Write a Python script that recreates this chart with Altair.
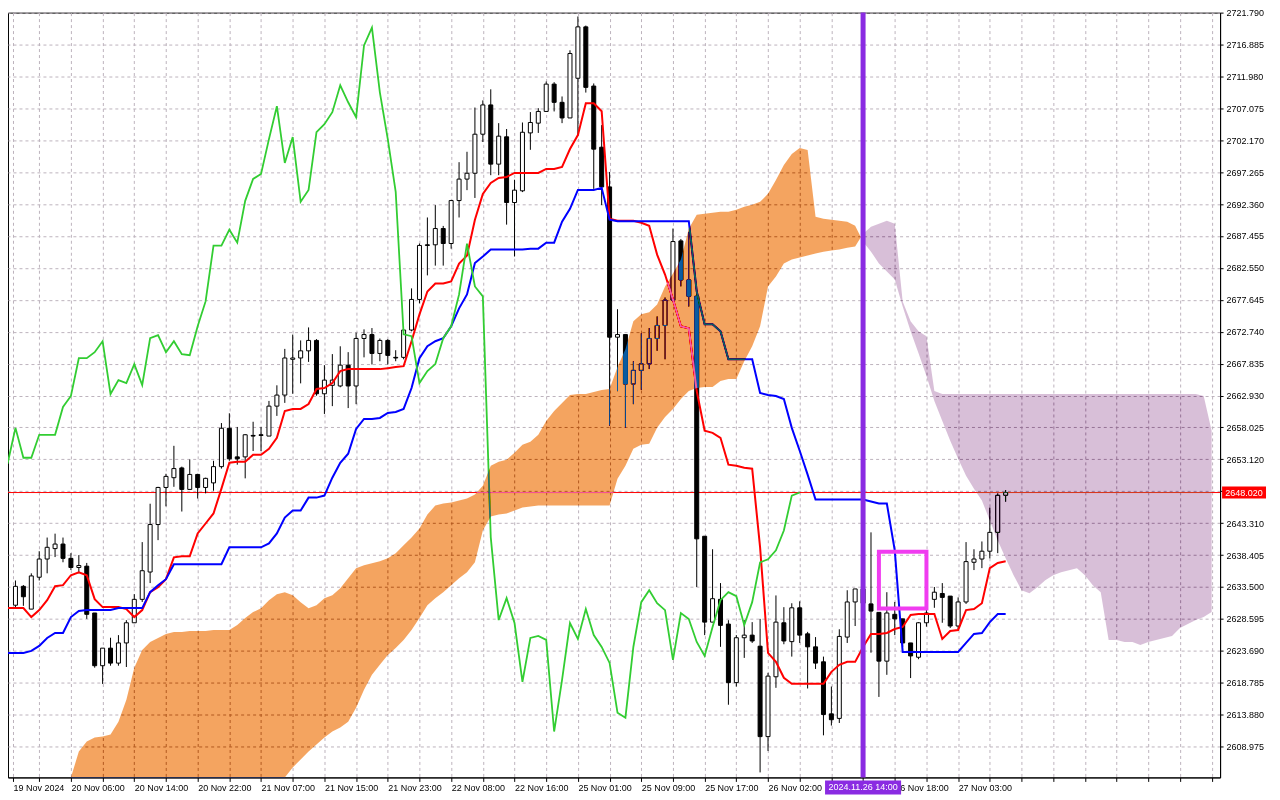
import altair as alt
import pandas as pd

FONT = "Liberation Sans"
GRID = "#bdb3bd"

# ---------------- axis labels ----------------
first_label = "19 Nov 2024"
time_labels = ["20 Nov 06:00", "20 Nov 14:00", "20 Nov 22:00", "21 Nov 07:00", "21 Nov 15:00",
               "21 Nov 23:00", "22 Nov 08:00", "22 Nov 16:00", "25 Nov 01:00", "25 Nov 09:00",
               "25 Nov 17:00", "26 Nov 02:00", "26 Nov 10:00", "26 Nov 18:00", "27 Nov 03:00"]
label_first_bar = 7
price_ticks = [2721.790, 2716.885, 2711.980, 2707.075, 2702.170, 2697.265, 2692.360, 2687.455,
               2682.550, 2677.645, 2672.740, 2667.835, 2662.930, 2658.025, 2653.120, 2648.215,
               2643.310, 2638.405, 2633.500, 2628.595, 2623.690, 2618.785, 2613.880, 2608.975]

# ---------------- candles (bar 0 .. 125) ----------------
open_ = [2630.7, 2633.6, 2630.1, 2635.0, 2637.8, 2639.4, 2640.1, 2637.9, 2636.5, 2636.7,
         2629.5, 2621.4, 2624.1, 2621.8, 2624.9, 2628.0, 2631.6, 2635.8, 2643.1, 2648.8,
         2650.3, 2651.8, 2648.5, 2650.8, 2648.8, 2649.5, 2652.0, 2657.9, 2653.5, 2653.5,
         2656.8, 2656.9, 2656.7, 2661.3, 2663.0, 2668.5, 2668.7, 2669.8, 2671.4, 2663.2,
         2664.5, 2664.4, 2667.6, 2664.4, 2671.7, 2672.3, 2669.4, 2671.4, 2668.8, 2668.8,
         2673.0, 2677.7, 2686.1, 2686.1, 2688.6, 2686.3, 2692.9, 2696.2, 2697.1, 2703.1,
         2707.6, 2698.5, 2702.7, 2692.6, 2694.4, 2703.3, 2704.8, 2706.6, 2710.8, 2708.0,
         2705.6, 2711.7, 2719.6, 2710.5, 2701.1, 2695.0, 2671.9, 2672.3, 2664.7, 2666.8,
         2667.8, 2671.7, 2673.7, 2677.6, 2686.7, 2680.7, 2678.2, 2641.3, 2628.1, 2631.6,
         2627.8, 2618.8, 2625.7, 2626.1, 2624.4, 2610.5, 2619.7, 2628.0, 2625.1, 2630.3,
         2626.3, 2624.3, 2622.0, 2614.0, 2613.3, 2625.8, 2631.2, 2633.2, 2630.9, 2629.6,
         2622.1, 2629.3, 2628.6, 2624.9, 2622.7, 2628.0, 2631.6, 2632.5, 2632.1, 2627.5,
         2631.2, 2637.3, 2637.8, 2639.0, 2641.9, 2647.6]
high = [2634.5, 2633.8, 2635.6, 2639.0, 2641.1, 2641.7, 2641.1, 2638.7, 2638.4, 2637.2,
        2629.5, 2624.1, 2625.7, 2626.1, 2628.4, 2632.4, 2640.4, 2646.3, 2648.9, 2650.9,
        2655.2, 2652.0, 2653.1, 2650.9, 2650.3, 2652.9, 2658.7, 2660.2, 2658.1, 2657.0,
        2658.9, 2658.1, 2662.1, 2664.5, 2670.1, 2672.3, 2671.4, 2673.4, 2671.6, 2667.6,
        2669.3, 2670.5, 2669.6, 2672.6, 2673.1, 2673.3, 2671.7, 2671.6, 2669.9, 2673.0,
        2679.4, 2686.3, 2690.3, 2692.2, 2689.0, 2693.0, 2698.8, 2700.4, 2707.2, 2708.3,
        2710.0, 2704.8, 2703.9, 2696.1, 2704.9, 2706.5, 2707.1, 2711.2, 2711.1, 2708.9,
        2716.0, 2721.2, 2719.8, 2710.9, 2704.5, 2697.3, 2676.2, 2672.3, 2668.2, 2672.5,
        2673.3, 2675.1, 2678.0, 2688.6, 2687.0, 2688.1, 2678.5, 2641.3, 2639.3, 2634.1,
        2628.4, 2626.1, 2628.4, 2628.1, 2628.6, 2620.3, 2632.2, 2630.4, 2631.0, 2631.3,
        2626.6, 2625.8, 2622.8, 2618.2, 2627.0, 2633.0, 2633.2, 2634.0, 2641.9, 2629.6,
        2632.7, 2631.2, 2628.6, 2624.9, 2628.1, 2633.0, 2633.5, 2634.1, 2632.1, 2631.9,
        2640.4, 2639.3, 2640.5, 2645.7, 2647.9, 2648.4]
low = [2630.3, 2630.6, 2630.1, 2634.5, 2635.6, 2638.1, 2637.3, 2636.1, 2635.6, 2628.6,
       2621.1, 2618.6, 2621.4, 2621.4, 2621.2, 2628.0, 2631.2, 2634.1, 2640.7, 2645.9,
       2648.9, 2645.1, 2648.5, 2647.1, 2647.9, 2648.3, 2651.7, 2652.9, 2652.3, 2650.2,
       2654.4, 2654.4, 2656.7, 2659.8, 2661.8, 2663.2, 2664.8, 2668.1, 2662.9, 2660.1,
       2661.3, 2664.2, 2661.0, 2661.6, 2668.8, 2667.7, 2668.2, 2667.7, 2668.2, 2668.5,
       2672.8, 2677.1, 2681.4, 2682.9, 2682.9, 2685.5, 2690.3, 2694.5, 2693.3, 2701.9,
       2696.8, 2696.8, 2689.2, 2684.3, 2694.2, 2700.7, 2703.3, 2706.6, 2706.6, 2704.8,
       2705.6, 2702.9, 2709.5, 2694.7, 2692.2, 2658.3, 2663.6, 2658.0, 2661.6, 2663.8,
       2667.0, 2669.8, 2668.5, 2677.4, 2679.7, 2676.6, 2633.5, 2626.1, 2628.1, 2624.3,
       2615.4, 2618.2, 2622.6, 2624.9, 2605.0, 2608.3, 2618.0, 2624.7, 2622.8, 2624.9,
       2617.9, 2620.9, 2610.7, 2612.2, 2612.6, 2624.9, 2627.5, 2629.5, 2623.4, 2616.6,
       2620.0, 2626.1, 2624.3, 2619.5, 2622.4, 2627.4, 2630.3, 2628.0, 2627.2, 2627.0,
       2630.9, 2636.1, 2636.4, 2637.9, 2638.7, 2646.6]
close = [2633.6, 2632.0, 2635.2, 2637.8, 2639.6, 2640.1, 2637.9, 2636.5, 2636.8, 2629.3,
         2621.4, 2624.1, 2621.8, 2624.9, 2628.0, 2631.6, 2636.0, 2643.1, 2648.8, 2650.5,
         2651.7, 2648.5, 2650.8, 2648.8, 2650.2, 2652.0, 2657.9, 2653.2, 2653.2, 2656.9,
         2656.7, 2656.8, 2661.3, 2663.0, 2668.7, 2668.7, 2669.8, 2671.4, 2663.2, 2665.3,
         2665.3, 2667.6, 2664.4, 2671.7, 2672.3, 2669.4, 2671.4, 2669.1, 2668.7, 2673.0,
         2677.7, 2686.0, 2686.0, 2688.6, 2686.3, 2692.9, 2696.2, 2697.1, 2703.1, 2707.6,
         2698.5, 2702.8, 2692.6, 2694.5, 2703.4, 2704.9, 2706.6, 2710.8, 2708.0, 2705.6,
         2715.5, 2719.6, 2710.3, 2700.8, 2695.0, 2671.9, 2672.3, 2664.7, 2666.8, 2667.8,
         2671.7, 2673.7, 2677.6, 2686.6, 2680.7, 2678.2, 2640.9, 2628.1, 2631.7, 2627.6,
         2618.8, 2625.7, 2626.1, 2625.2, 2610.5, 2619.8, 2628.1, 2625.2, 2630.3, 2626.1,
         2624.3, 2621.8, 2613.9, 2613.1, 2625.9, 2631.2, 2633.2, 2631.0, 2629.8, 2622.1,
         2629.5, 2628.6, 2624.9, 2622.9, 2628.0, 2629.5, 2632.7, 2631.9, 2627.5, 2631.2,
         2637.4, 2637.8, 2639.0, 2641.9, 2647.6, 2648.02]

# ---------------- Ichimoku lines (from bar -1) ----------------
line_first_bar = -1
tenkan = [2630.26, 2630.26, 2630.26, 2628.88, 2629.95, 2631.48, 2633.62, 2633.78, 2635.31, 2635.77,
          2635.31, 2631.63, 2630.41, 2630.41, 2630.41, 2630.10, 2628.88, 2629.95, 2632.71, 2633.47,
          2634.70, 2638.06, 2638.21, 2638.21, 2641.73, 2643.26, 2644.80, 2648.62, 2652.60, 2652.76,
          2652.76, 2653.83, 2653.83, 2654.75, 2656.43, 2660.56, 2660.87, 2660.87, 2661.63, 2663.93,
          2664.08, 2664.85, 2666.68, 2666.99, 2666.99, 2666.99, 2666.99, 2666.99, 2667.14, 2667.30,
          2667.45, 2671.28, 2675.41, 2678.93, 2680.15, 2680.15, 2680.46, 2683.22, 2684.44, 2689.95,
          2693.93, 2695.61, 2696.38, 2696.53, 2697.14, 2697.14, 2697.14, 2697.14, 2697.76, 2697.76,
          2698.07, 2700.82, 2702.96, 2707.86, 2707.86, 2706.64, 2690.10, 2689.80, 2689.80, 2689.80,
          2689.49, 2689.03, 2684.59, 2681.53, 2677.71, 2673.57, 2673.27, 2663.62, 2657.51, 2657.20,
          2656.43, 2652.31, 2652.15, 2651.84, 2651.69, 2639.60, 2623.37, 2621.99, 2619.54, 2618.62,
          2618.62, 2618.62, 2618.62, 2618.62, 2620.46, 2621.53, 2621.99, 2621.99, 2624.28, 2626.28,
          2626.28, 2626.43, 2627.04, 2627.35, 2629.19, 2629.34, 2629.34, 2629.34, 2625.51, 2626.74,
          2626.89, 2629.95, 2630.10, 2631.00, 2636.40, 2637.20, 2637.45]
kijun = [2623.37, 2623.37, 2623.37, 2623.68, 2624.44, 2625.67, 2626.43, 2626.43, 2628.88, 2629.80,
         2629.95, 2629.95, 2629.95, 2629.95, 2630.26, 2630.26, 2630.26, 2630.26, 2632.71, 2633.78,
         2634.70, 2637.00, 2637.00, 2637.00, 2637.00, 2637.00, 2637.00, 2637.00, 2639.60, 2639.60,
         2639.60, 2639.60, 2639.60, 2640.21, 2641.73, 2644.18, 2645.25, 2645.25, 2647.24, 2647.24,
         2647.55, 2650.30, 2652.60, 2653.98, 2657.80, 2659.33, 2659.33, 2659.49, 2660.25, 2660.41,
         2660.87, 2664.08, 2668.67, 2670.51, 2671.28, 2671.74, 2673.57, 2676.33, 2678.47, 2683.30,
         2684.29, 2685.36, 2685.36, 2685.36, 2685.36, 2685.36, 2685.51, 2685.51, 2686.43, 2686.43,
         2689.65, 2691.63, 2694.54, 2694.54, 2694.54, 2694.85, 2689.95, 2689.72, 2689.72, 2689.72,
         2689.72, 2689.72, 2689.72, 2689.72, 2689.72, 2689.72, 2689.72, 2678.93, 2673.88, 2673.88,
         2672.81, 2668.52, 2668.52, 2668.52, 2668.52, 2663.32, 2663.01, 2662.86, 2662.40, 2657.96,
         2654.44, 2650.77, 2646.94, 2646.94, 2646.94, 2646.94, 2646.94, 2646.94, 2646.94, 2646.63,
         2646.33, 2646.33, 2639.14, 2623.52, 2623.52, 2623.52, 2623.52, 2623.52, 2623.52, 2623.52,
         2623.52, 2624.90, 2626.28, 2626.43, 2628.11, 2629.34, 2629.34]
chikou = [2652.45, 2657.96, 2653.37, 2653.37, 2656.89, 2656.89, 2656.89, 2661.17, 2662.86, 2668.67,
          2668.67, 2669.59, 2671.28, 2663.16, 2665.31, 2664.85, 2667.75, 2664.54, 2671.74, 2672.20,
          2669.59, 2671.28, 2669.29, 2669.13, 2673.57, 2677.40, 2685.97, 2685.97, 2688.42, 2686.43,
          2692.86, 2696.23, 2696.99, 2702.35, 2707.40, 2698.68, 2702.66, 2692.71, 2694.54, 2703.42,
          2704.65, 2706.48, 2710.62, 2708.01, 2705.72, 2716.74, 2719.49, 2709.54, 2702.35, 2694.24,
          2672.35, 2672.05, 2664.85, 2666.69, 2667.76, 2671.74, 2673.57, 2678.47, 2686.28, 2679.70,
          2678.17, 2641.13, 2628.42, 2631.79, 2627.96, 2618.93, 2625.67, 2625.97, 2625.36, 2611.28,
          2619.23, 2627.96, 2625.51, 2630.10, 2626.12, 2624.28, 2621.83, 2614.18, 2613.41, 2624.28,
          2631.17, 2633.01, 2631.02, 2629.95, 2622.29, 2629.49, 2628.57, 2625.05, 2622.91, 2627.35,
          2631.48, 2632.70, 2632.09, 2627.65, 2631.17, 2637.29, 2637.75, 2639.13, 2642.19, 2647.55,
          2648.02]

# ---------------- cloud spans (from bar 7 to 151) ----------------
cloud_first_bar = 7
span_a = [2603.16, 2608.21, 2609.74, 2610.35, 2610.51, 2610.81, 2612.80, 2616.17, 2621.07, 2623.82,
          2625.05, 2625.66, 2626.27, 2626.58, 2626.58, 2626.73, 2626.73, 2626.73, 2626.89, 2626.89,
          2626.89, 2627.65, 2628.72, 2629.64, 2630.25, 2631.48, 2632.40, 2632.70, 2632.24, 2631.17,
          2630.25, 2630.71, 2631.78, 2632.24, 2633.31, 2634.85, 2636.38, 2636.84, 2637.14, 2637.45,
          2637.91, 2638.67, 2639.90, 2641.12, 2642.50, 2644.64, 2646.02, 2646.33, 2646.48, 2646.78,
          2647.09, 2647.70, 2649.08, 2652.14, 2652.75, 2653.06, 2654.13, 2655.36, 2655.82, 2656.89,
          2659.03, 2660.56, 2661.79, 2663.01, 2663.16, 2663.16, 2663.47, 2663.78, 2663.93, 2667.30,
          2670.05, 2674.34, 2675.41, 2675.72, 2676.94, 2679.70, 2681.68, 2683.83, 2688.57, 2690.72,
          2690.87, 2691.02, 2691.18, 2691.18, 2691.48, 2691.94, 2692.25, 2692.71, 2693.93, 2696.07,
          2698.37, 2700.05, 2700.97, 2700.67, 2690.41, 2690.10, 2689.95, 2689.80, 2689.64, 2689.03,
          2686.58, 2685.05, 2683.22, 2681.99, 2680.77, 2676.63, 2672.81, 2669.44, 2665.92, 2662.09,
          2659.03, 2655.97, 2653.21, 2650.61, 2648.62, 2646.78, 2643.72, 2640.66, 2637.91, 2635.30,
          2633.01, 2632.55, 2633.47, 2634.54, 2635.30, 2635.76, 2636.07, 2636.38, 2635.30, 2633.77,
          2632.70, 2625.36, 2625.36, 2625.05, 2625.05, 2624.59, 2625.05, 2625.36, 2625.66, 2625.97,
          2627.19, 2627.80, 2628.42, 2628.88, 2629.64]
span_b = [2601.5, 2601.5, 2601.5, 2601.5, 2601.5, 2601.5, 2601.5, 2601.5, 2601.5, 2601.5,
          2601.5, 2601.5, 2601.5, 2601.5, 2601.5, 2601.5, 2601.5, 2601.5, 2601.5, 2601.5,
          2601.5, 2601.5, 2601.5, 2601.5, 2601.5, 2601.5, 2601.5, 2604.23, 2605.76, 2606.99,
          2608.21, 2609.28, 2610.35, 2611.27, 2611.89, 2612.80, 2614.95, 2617.70, 2620.00, 2621.53,
          2623.06, 2624.13, 2625.36, 2626.89, 2628.72, 2630.71, 2631.78, 2632.70, 2633.77, 2634.85,
          2635.76, 2637.29, 2642.19, 2644.34, 2644.64, 2644.80, 2645.25, 2645.71, 2645.87, 2646.02,
          2646.02, 2646.02, 2646.02, 2646.02, 2646.02, 2646.02, 2646.02, 2646.02, 2646.02, 2650.15,
          2652.14, 2654.74, 2655.36, 2655.51, 2657.96, 2659.64, 2660.87, 2662.40, 2663.62, 2664.08,
          2664.23, 2664.23, 2665.15, 2665.46, 2665.46, 2668.21, 2670.51, 2673.57, 2679.70, 2681.23,
          2683.22, 2683.83, 2684.13, 2684.44, 2684.75, 2685.05, 2685.21, 2685.36, 2685.66, 2685.82,
          2687.81, 2688.88, 2689.34, 2689.80, 2689.34, 2677.40, 2674.34, 2672.81, 2672.04, 2663.62,
          2663.16, 2663.16, 2663.16, 2663.16, 2663.16, 2663.16, 2663.16, 2663.16, 2663.16, 2663.16,
          2663.16, 2663.16, 2663.16, 2663.16, 2663.16, 2663.16, 2663.16, 2663.16, 2663.16, 2663.16,
          2663.16, 2663.16, 2663.16, 2663.16, 2663.16, 2663.16, 2663.16, 2663.16, 2663.16, 2663.16,
          2663.16, 2663.16, 2663.16, 2662.86, 2657.50]

# ---------------- annotations ----------------
current_price = 2648.02
current_label = "2648.020"
vline_bar = 107
vline_label = "2024.11.26 14:00"
box_bars = [109, 115]
box_prices = [2638.9, 2630.2]

# ---------------- layout ----------------
W, H = 1214, 766
xscale = alt.Scale(domain=[-0.3125, 151.4375], nice=False, zero=False)
yscale = alt.Scale(domain=[2604.23, 2721.79], nice=False, zero=False, clamp=True)

grid_vals = [-0.3125] + list(range(3, 152, 4))
last_label_bar = label_first_bar + 8 * (len(time_labels) - 1)
lab_js = "[" + ",".join("'%s'" % s for s in time_labels) + "]"
label_expr = (f"datum.value < 0 ? '{first_label}' : "
              f"((datum.value - {label_first_bar}) % 8 == 0 && datum.value <= {last_label_bar} "
              f"&& abs(datum.value - {vline_bar}) > 3 ? "
              f"{lab_js}[(datum.value - {label_first_bar}) / 8] : '')")

xaxis = alt.Axis(values=grid_vals, grid=True, gridDash=[3, 3], gridColor=GRID, gridWidth=1,
                 labelExpr=label_expr, labelAlign="left", labelFont=FONT, labelFontSize=9,
                 labelColor="black", labelPadding=2, labelOverlap=False, labelFlush=False,
                 tickSize=4, tickColor="black", domainColor="black", title="")
yaxis = alt.Axis(orient="right", values=price_ticks, format=".3f", grid=True, gridDash=[3, 3],
                 gridColor=GRID, gridWidth=1, labelFont=FONT, labelFontSize=9, labelColor="black",
                 labelPadding=3, labelOverlap=False, labelFlush=False, tickSize=3,
                 tickColor="black", domainColor="black", title="")


def X(f):
    return alt.X(f, type="quantitative", scale=xscale, axis=xaxis)


def Y(f):
    return alt.Y(f, type="quantitative", scale=yscale, axis=yaxis)


# data frames
candles = pd.DataFrame({"bar": list(range(len(close))), "open": open_, "high": high,
                        "low": low, "close": close})
ten_df = pd.DataFrame({"bar": list(range(line_first_bar, line_first_bar + len(tenkan))), "v": tenkan})
kij_df = pd.DataFrame({"bar": list(range(line_first_bar, line_first_bar + len(kijun))), "v": kijun})
chi_df = pd.DataFrame({"bar": list(range(line_first_bar, line_first_bar + len(chikou))), "v": chikou})

rows = []
seg = 0
prev = None
for i, (a, b) in enumerate(zip(span_a, span_b)):
    xb = cloud_first_bar + i
    kind = "bull" if a >= b else "bear"
    if prev is not None and kind != prev[3]:
        px, pa, pb, pk = prev
        d0, d1 = pa - pb, a - b
        t = d0 / (d0 - d1)
        cx = px + t
        cv = pa + t * (a - pa)
        rows.append({"bar": cx, "a": cv, "b": cv, "kind": pk, "seg": seg})
        seg += 1
        rows.append({"bar": cx, "a": cv, "b": cv, "kind": kind, "seg": seg})
    rows.append({"bar": xb, "a": a, "b": b, "kind": kind, "seg": seg})
    prev = (xb, a, b, kind)
cloud = pd.DataFrame(rows)

cur_df = pd.DataFrame({"price": [current_price], "top": [current_price + 0.92],
                       "bot": [current_price - 0.92], "label": [current_label]})
vl_df = pd.DataFrame({"bar": [vline_bar], "x1": [vline_bar - 4.8], "x2": [vline_bar + 4.8],
                      "label": [vline_label]})
box_df = pd.DataFrame({"x1": [box_bars[0]], "x2": [box_bars[1]],
                       "p1": [box_prices[0]], "p2": [box_prices[1]]})

# ---------------- layers ----------------
hline = alt.Chart(cur_df).mark_rule(color="#FF0000", strokeWidth=1).encode(y=Y("price"))

wicks = alt.Chart(candles).mark_rule(color="black", strokeWidth=1).encode(
    x=X("bar"), y=Y("low"), y2=alt.Y2("high"))

bodies = alt.Chart(candles).mark_bar(size=4, stroke="black", strokeWidth=1).encode(
    x=X("bar"), y=Y("open"), y2=alt.Y2("close"),
    fill=alt.condition(alt.datum.close >= alt.datum.open, alt.value("white"), alt.value("black")))

l_ten = alt.Chart(ten_df).mark_line(color="#FF0000", strokeWidth=2, clip=True).encode(
    x=X("bar"), y=Y("v"))
l_kij = alt.Chart(kij_df).mark_line(color="#0000FF", strokeWidth=2, clip=True).encode(
    x=X("bar"), y=Y("v"))
l_chi = alt.Chart(chi_df).mark_line(color="#32CD32", strokeWidth=1.8, clip=True).encode(
    x=X("bar"), y=Y("v"))

# cloud drawn with a difference blend (no clip group, so it blends with everything below)
cloud_bull = alt.Chart(cloud).transform_filter(alt.datum.kind == "bull").mark_area(
    color="#0B5B9F", blend="difference").encode(
    x=X("bar"), y=Y("a"), y2=alt.Y2("b"), detail="seg:N")
cloud_bear = alt.Chart(cloud).transform_filter(alt.datum.kind == "bear").mark_area(
    color="#274027", blend="difference").encode(
    x=X("bar"), y=Y("a"), y2=alt.Y2("b"), detail="seg:N")

box = alt.Chart(box_df).mark_rect(filled=False, stroke="#F03CF0", strokeWidth=4).encode(
    x=X("x1"), x2=alt.X2("x2"), y=Y("p1"), y2=alt.Y2("p2"))

vline = alt.Chart(vl_df).mark_rule(color="#8A2BE2", strokeWidth=5).encode(x=X("bar"))

vl_box = alt.Chart(vl_df).mark_rect(color="#8A2BE2").encode(
    x=X("x1"), x2=alt.X2("x2"), y=alt.value(H + 3), y2=alt.value(H + 17))
vl_text = alt.Chart(vl_df).mark_text(color="white", font=FONT, fontSize=9, align="center",
                                     baseline="middle").encode(
    x=X("bar"), y=alt.value(H + 10), text="label:N")

pr_box = alt.Chart(cur_df).mark_rect(color="#FF0000").encode(
    x=alt.value(W + 2), x2=alt.value(W + 46), y=Y("top"), y2=alt.Y2("bot"))
pr_text = alt.Chart(cur_df).mark_text(color="white", font=FONT, fontSize=9, align="center",
                                      baseline="middle").encode(
    x=alt.value(W + 24), y=Y("price"), text="label:N")

chart = alt.layer(
    hline, wicks, bodies, l_ten, l_kij, l_chi, cloud_bull, cloud_bear, box, vline,
    vl_box, vl_text, pr_box, pr_text
).properties(
    width=W, height=H,
    autosize=alt.AutoSizeParams(type="none"),
    padding={"left": 0, "top": 4, "right": 52, "bottom": 22},
    background="white",
).configure_view(stroke="black", strokeWidth=1, fill="white")

chart.save("out.html", embed_options={"renderer": "svg", "actions": False})
